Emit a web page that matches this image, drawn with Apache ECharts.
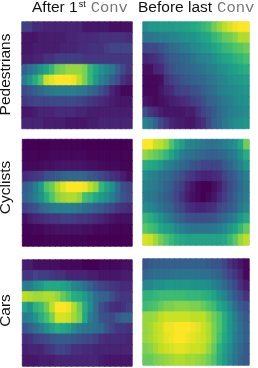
<!DOCTYPE html>
<html><head><meta charset="utf-8">
<style>html,body{margin:0;padding:0;background:#fff}#c{width:258px;height:368px}</style>
<script src="https://cdn.jsdelivr.net/npm/echarts@6/dist/echarts.min.js"></script>
</head><body><div id="c"></div>
<script>
const rowLabels = ['Pedestrians','Cyclists','Cars'];
const colHeads = ['After 1','Before last'];
const pedFirst = [
[.18,.18,.12,.12,.1,.1,.1,.1,.1,.1,.1,.06,.06,.06,.06,.06,.04,.04,.04,.04],
[.06,.06,.06,.08,.08,.08,.08,.08,.1,.1,.12,.12,.12,.12,.14,.14,.14,.14,.14,.12],
[.06,.06,.08,.08,.08,.08,.08,.1,.1,.1,.12,.12,.14,.14,.14,.18,.2,.2,.2,.2],
[.08,.08,.1,.1,.14,.14,.18,.18,.18,.18,.18,.16,.16,.16,.16,.16,.16,.16,.16,.16],
[.3,.36,.42,.5,.58,.66,.78,.8,.84,.84,.84,.8,.66,.58,.5,.44,.4,.3,.22,.16],
[.42,.5,.62,.72,.92,.96,1,1,1,.98,.9,.8,.66,.54,.44,.38,.3,.24,.14,.1],
[.22,.26,.3,.34,.38,.4,.42,.42,.42,.42,.4,.38,.34,.3,.24,.18,.1,.06,.02,.02],
[.16,.18,.2,.2,.2,.22,.22,.22,.22,.22,.2,.18,.16,.14,.12,.1,.08,.06,.06,.06],
[.06,.06,.08,.1,.1,.1,.12,.12,.12,.12,.1,.1,.08,.08,.08,.08,.08,.08,.08,.08],
[.1,.1,.1,.1,.08,.08,.08,.08,.06,.06,.06,.06,.08,.08,.1,.1,.1,.1,.1,.1]];
const pedLast = [
[.48,.52,.52,.54,.54,.54,.56,.56,.58,.6,.62,.66,.7,.78,.84,.9,.94,.98,1,1],
[.38,.38,.4,.42,.42,.44,.46,.48,.5,.5,.54,.58,.6,.66,.7,.76,.78,.82,.88,.88],
[.2,.22,.22,.26,.3,.34,.36,.4,.42,.46,.48,.52,.54,.58,.62,.66,.68,.72,.74,.78],
[.1,.12,.14,.18,.24,.28,.3,.32,.34,.38,.42,.44,.46,.5,.54,.58,.6,.64,.66,.7],
[.04,.04,.1,.12,.2,.24,.28,.3,.32,.34,.36,.38,.42,.44,.48,.5,.54,.56,.6,.62],
[.02,.02,.02,.04,.14,.18,.22,.26,.28,.3,.32,.34,.38,.4,.44,.46,.5,.52,.54,.56],
[.02,.02,.02,.06,.1,.12,.18,.2,.2,.24,.26,.3,.34,.36,.42,.44,.46,.48,.5,.52],
[.06,.04,.02,.04,.06,.08,.1,.12,.14,.18,.2,.24,.3,.32,.36,.4,.42,.46,.48,.5],
[.24,.16,.12,.08,.06,.06,.06,.06,.08,.08,.14,.2,.24,.28,.34,.38,.42,.44,.46,.48],
[.44,.4,.3,.22,.16,.1,.08,.08,.06,.06,.1,.14,.22,.3,.34,.4,.44,.48,.5,.52]];
const cycFirst = [
[0,0,0,0,0,.01,.01,.01,.01,.01,.01,0,0,0,0,0,0,0,0,0],
[.01,.01,.01,.01,.01,.02,.02,.02,.02,.02,.02,.02,.01,.01,.01,.01,.01,.01,.01,.01],
[.02,.02,.02,.03,.04,.04,.05,.06,.06,.06,.06,.05,.04,.04,.03,.02,.02,.02,.01,.01],
[.12,.14,.16,.18,.24,.26,.28,.32,.34,.34,.34,.32,.28,.26,.22,.18,.14,.12,.08,.04],
[.3,.34,.42,.54,.72,.78,.88,.95,1,1,1,.98,.9,.84,.66,.58,.5,.36,.24,.2],
[.32,.36,.42,.5,.62,.72,.82,.86,.88,.88,.84,.7,.66,.6,.54,.48,.42,.34,.26,.22],
[.18,.22,.26,.32,.36,.4,.42,.42,.42,.42,.4,.36,.34,.3,.28,.24,.2,.16,.14,.12],
[.04,.08,.1,.12,.14,.16,.16,.18,.18,.18,.16,.16,.14,.12,.1,.08,.06,.04,.04,.04],
[.01,.01,.02,.02,.04,.04,.05,.05,.05,.05,.05,.04,.04,.02,.02,.02,.01,.01,.01,.01],
[0,0,0,0,.01,.01,.01,.01,.01,.01,.01,.01,0,0,0,0,0,0,0,0]];
const cycLast = [
[1,1,.92,.9,.84,.72,.62,.56,.46,.44,.42,.4,.38,.38,.4,.42,.46,.5,.6,.78],
[.84,.8,.76,.72,.66,.58,.5,.42,.38,.36,.34,.32,.3,.3,.32,.34,.38,.42,.5,.62],
[.62,.6,.58,.52,.46,.42,.38,.34,.3,.26,.24,.2,.2,.2,.22,.28,.32,.38,.44,.52],
[.48,.44,.42,.38,.36,.32,.28,.24,.18,.16,.12,.1,.1,.12,.14,.2,.26,.3,.36,.42],
[.44,.42,.4,.36,.32,.28,.22,.18,.1,.06,.02,0,0,.04,.08,.16,.22,.28,.34,.4],
[.42,.4,.38,.34,.3,.26,.2,.14,.08,.04,.02,0,.02,.06,.12,.18,.24,.3,.36,.42],
[.48,.46,.42,.38,.34,.3,.24,.2,.14,.12,.1,.1,.12,.14,.2,.24,.28,.32,.4,.46],
[.66,.62,.56,.5,.44,.38,.34,.3,.26,.24,.24,.24,.24,.26,.3,.34,.38,.44,.52,.6],
[.74,.7,.66,.6,.56,.52,.46,.42,.4,.38,.38,.38,.38,.4,.42,.46,.52,.58,.66,.76],
[.94,.92,.86,.78,.72,.66,.62,.6,.58,.58,.58,.58,.58,.58,.58,.6,.66,.74,.84,.9]];
const carFirst = [
[.08,.08,.04,.04,.04,.04,.04,.02,.02,.02,.02,0,0,0,.02,.02,.02,.02,.04,.04],
[.16,.16,.2,.18,.18,.16,.14,.14,.1,.1,.1,.1,.08,.08,.06,.06,.06,.06,.08,.08],
[.42,.42,.5,.54,.6,.6,.6,.58,.54,.46,.42,.36,.3,.24,.2,.18,.16,.14,.12,.12],
[.9,.88,.86,.86,.88,.88,.84,.76,.7,.62,.6,.54,.46,.36,.32,.3,.24,.18,.16,.16],
[.58,.5,.64,.68,.78,.9,1,1,.98,.88,.78,.62,.48,.36,.24,.18,.14,.12,.14,.18],
[.42,.44,.52,.62,.7,.8,.94,.94,.92,.86,.8,.6,.42,.36,.26,.24,.22,.28,.32,.32],
[.26,.3,.36,.42,.5,.56,.62,.6,.56,.48,.42,.4,.38,.36,.34,.26,.2,.16,.16,.14],
[.12,.14,.18,.2,.22,.26,.28,.28,.28,.26,.24,.22,.2,.18,.14,.12,.12,.12,.12,.1],
[.08,.1,.1,.1,.14,.16,.2,.2,.18,.14,.14,.12,.12,.1,.1,.1,.1,.1,.1,.1],
[.06,.06,.06,.08,.08,.08,.1,.1,.1,.1,.1,.1,.1,.1,.08,.06,.06,.06,.06,.06]];
const carLast = [
[.26,.28,.3,.3,.3,.3,.3,.3,.3,.3,.3,.3,.28,.26,.26,.2,.14,.1,.06,.02],
[.32,.34,.36,.36,.36,.36,.38,.38,.38,.38,.38,.36,.36,.34,.32,.26,.2,.16,.1,.02],
[.46,.46,.5,.5,.52,.52,.52,.52,.52,.5,.5,.5,.48,.44,.4,.34,.28,.22,.14,.08],
[.64,.64,.66,.68,.68,.68,.68,.68,.66,.66,.66,.64,.62,.58,.5,.44,.36,.28,.22,.14],
[.68,.7,.72,.76,.8,.8,.82,.82,.82,.8,.8,.76,.72,.68,.6,.54,.46,.36,.28,.24],
[.84,.84,.86,.9,.92,.92,.92,.92,.92,.9,.9,.9,.84,.78,.72,.62,.52,.42,.34,.28],
[.84,.86,.9,.92,.98,.98,1,1,1,.98,.96,.92,.88,.8,.72,.62,.52,.44,.36,.3],
[.84,.86,.9,.92,.96,.98,1,1,.98,.96,.94,.92,.88,.8,.7,.6,.52,.42,.36,.3],
[.8,.82,.86,.9,.92,.94,.96,.96,.94,.92,.92,.9,.84,.76,.64,.56,.48,.4,.34,.28],
[.76,.76,.8,.82,.84,.86,.88,.88,.86,.86,.84,.82,.78,.72,.62,.54,.46,.38,.32,.28]];
const viridis = ['#440154','#482475','#414487','#355f8d','#2a788e','#21918c','#22a884','#44bf70','#7ad151','#bddf26','#fde725'];
const colorOf = v => echarts.color.lerp(v, viridis);
const panels = [
 {m:pedFirst,l:22,t:22,w:110,h:106.5},{m:pedLast,l:143,t:22,w:106,h:106.5},
 {m:cycFirst,l:22.5,t:139.5,w:109.5,h:106.5},{m:cycLast,l:143,t:139.5,w:106,h:105.5},
 {m:carFirst,l:22.5,t:260,w:109.5,h:106},{m:carLast,l:143,t:259,w:106,h:106}];
const idx = n => Array.from({length:n},(_,i)=>i);
const sans = '"Liberation Sans"', mono = '"Liberation Mono"';
const conv = {fontFamily:mono,fontSize:15.5,fill:'#777',padding:[0,0,0,5]};
const option = {
  animation:false,
  backgroundColor:'#fff',
  visualMap:{show:false,min:0,max:1,seriesIndex:idx(6),inRange:{color:viridis}},
  grid:panels.map(p=>({left:p.l,top:p.t,width:p.w,height:p.h,show:true,borderColor:'#cfc8e2',borderWidth:1,containLabel:false})),
  xAxis:panels.map((p,i)=>({type:'category',gridIndex:i,data:idx(20),show:false})),
  yAxis:panels.map((p,i)=>({type:'category',gridIndex:i,data:idx(10),inverse:true,show:false})),
  series:panels.map((p,i)=>({type:'heatmap',xAxisIndex:i,yAxisIndex:i,progressive:0,
    data:p.m.flatMap((r,y)=>r.map((v,x)=>({value:[x,y,v],itemStyle:{borderColor:colorOf(v),borderWidth:.7}})))})),
  graphic:[
    ...[[74.5,rowLabels[0]],[187.5,rowLabels[1]],[310.5,rowLabels[2]]].map(([y,s])=>({type:'text',x:6,y:y,rotation:Math.PI/2,
      style:{text:s,fill:'#111',fontFamily:sans,fontSize:15.5,align:'center',verticalAlign:'middle'}})),
    {type:'text',x:32,y:8,style:{text:`{a|${colHeads[0]}}{s|st}{c|Conv}`,verticalAlign:'middle',
      rich:{a:{fontFamily:sans,fontSize:15.5,fill:'#111'},s:{fontFamily:sans,fontSize:9,fill:'#111',verticalAlign:'top',padding:[0,0,7,1]},c:conv}}},
    {type:'text',x:138,y:8,style:{text:`{a|${colHeads[1]}}{c|Conv}`,verticalAlign:'middle',
      rich:{a:{fontFamily:sans,fontSize:15.5,fill:'#111'},c:conv}}}
  ]
};
const chart = echarts.init(document.getElementById('c'),null,{renderer:'canvas',width:258,height:368});
chart.setOption(option);
</script></body></html>
